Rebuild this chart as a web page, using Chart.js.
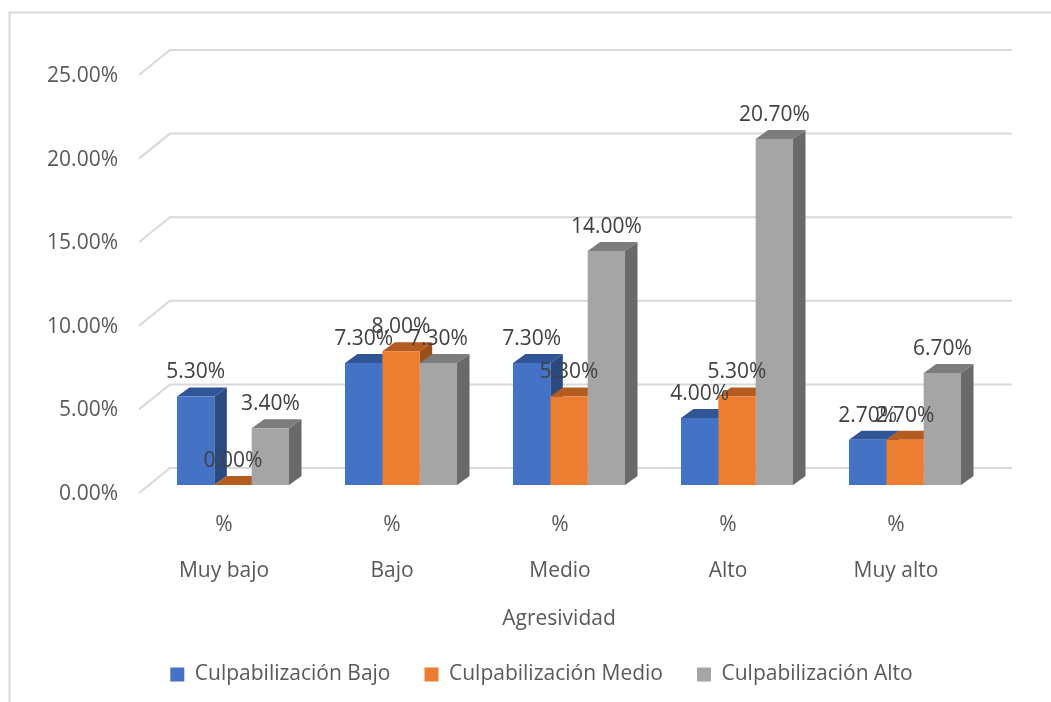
<!DOCTYPE html>
<html>
<head>
<meta charset="utf-8">
<script src="https://cdn.jsdelivr.net/npm/chart.js@4"></script>
<style>
    html, body { margin: 0; padding: 0; background: #fff; overflow: hidden; }
    canvas { display: block; }
</style>
</head>
<body>
<canvas id="myChart" width="1051" height="702"></canvas>
<script>
// Data
const categories = ['Muy bajo', 'Bajo', 'Medio', 'Alto', 'Muy alto'];
const unitLabel = '%';
const culpaBajo = [5.3, 7.3, 7.3, 4.0, 2.7];
const culpaMedio = [0.0, 8.0, 5.3, 5.3, 2.7];
const culpaAlto = [3.4, 7.3, 14.0, 20.7, 6.7];
const axisTitle = 'Agresividad';

const fontFamily = '"Open Sans", sans-serif';
const frontColors = ['#4472C4', '#ED7D31', '#A5A5A5'];
const topColors = ['#2F5597', '#B45B20', '#7C7C7C'];
const sideColors = ['#2A4A80', '#9C4E1B', '#696969'];
const gridColor = '#D9D9D9';

// depth of the fake 3D box
const barDepthX = 12.5;
const barDepthY = 9;
const wallRise = 17;
const floorDrop = 8;
const wallLeft = 170;
const wallFrontLeft = 139;
const wallRight = 1012;
const legendShift = 32;

function polygon(ctx, points, color) {
    ctx.fillStyle = color;
    ctx.beginPath();
    points.forEach(([x, y], i) => (i ? ctx.lineTo(x, y) : ctx.moveTo(x, y)));
    ctx.closePath();
    ctx.fill();
}

const box3d = {
    id: 'box3d',
    // the legend is centred under the whole picture, not under the plot
    afterLayout(chart) {
        chart.legend.left += legendShift;
        chart.legend.right += legendShift;
    },
    // outer frame and back wall lines
    beforeDraw(chart) {
        const { ctx, scales: { y } } = chart;
        ctx.save();
        ctx.strokeStyle = gridColor;
        ctx.lineWidth = 2;
        ctx.beginPath();
        ctx.moveTo(1051, 12.5);
        ctx.lineTo(9.5, 12.5);
        ctx.lineTo(9.5, 702);
        ctx.stroke();
        y.ticks.forEach((tick) => {
            const py = y.getPixelForValue(tick.value);
            ctx.beginPath();
            ctx.moveTo(wallFrontLeft, py + floorDrop);
            ctx.lineTo(wallLeft, py - wallRise);
            ctx.lineTo(wallRight, py - wallRise);
            ctx.stroke();
        });
        ctx.restore();
    },
    // side and top faces go under all the native front faces
    beforeDatasetsDraw(chart) {
        const { ctx } = chart;
        chart.data.datasets.forEach((ds, i) => {
            chart.getDatasetMeta(i).data.forEach((bar) => {
                const { x, y, base, width } = bar.getProps(['x', 'y', 'base', 'width']);
                const l = x - width / 2;
                const r = x + width / 2;
                polygon(ctx, [[r, y], [r + barDepthX, y - barDepthY], [r + barDepthX, base - barDepthY], [r, base]], sideColors[i]);
                polygon(ctx, [[l, y], [l + barDepthX, y - barDepthY], [r + barDepthX, y - barDepthY], [r, y]], topColors[i]);
            });
        });
    },
    // value labels and axis title on top of everything
    afterDatasetsDraw(chart) {
        const { ctx, scales: { x } } = chart;
        ctx.save();
        ctx.font = '21px ' + fontFamily;
        ctx.fillStyle = '#404040';
        ctx.textAlign = 'center';
        ctx.textBaseline = 'middle';
        chart.data.datasets.forEach((ds, i) => {
            chart.getDatasetMeta(i).data.forEach((bar, j) => {
                ctx.fillText(ds.data[j].toFixed(2) + '%', bar.x, bar.y - 24);
            });
        });
        ctx.fillStyle = '#595959';
        ctx.fillText(axisTitle, (x.left + x.right) / 2 - 10, 619);
        ctx.restore();
    }
};

const chart = new Chart(document.getElementById('myChart').getContext('2d'), {
    type: 'bar',
    data: {
        labels: categories.map((c) => [unitLabel, c]),
        datasets: [
            { label: 'Culpabilización Bajo', data: culpaBajo, backgroundColor: frontColors[0] },
            { label: 'Culpabilización Medio', data: culpaMedio, backgroundColor: frontColors[1] },
            { label: 'Culpabilización Alto', data: culpaAlto, backgroundColor: frontColors[2] }
        ]
    },
    plugins: [box3d],
    options: {
        responsive: false,
        animation: false,
        layout: { padding: { left: 30, right: 62, top: 67, bottom: 7 } },
        datasets: { bar: { barPercentage: 1, categoryPercentage: 0.667 } },
        plugins: {
            tooltip: { enabled: false },
            legend: {
                position: 'bottom',
                labels: {
                    color: '#595959',
                    font: { family: fontFamily, size: 21 },
                    boxWidth: 14,
                    boxHeight: 14,
                    padding: 34
                }
            }
        },
        scales: {
            x: {
                grid: { display: false },
                border: { display: false },
                afterFit: (scale) => { scale.height = 145; },
                ticks: {
                    color: '#595959',
                    font: { family: fontFamily, size: 21, lineHeight: 2.2 },
                    labelOffset: -9,
                    padding: 9,
                    maxRotation: 0
                }
            },
            y: {
                min: 0,
                max: 25,
                grid: { display: false },
                border: { display: false },
                afterFit: (scale) => { scale.width = 119; },
                ticks: {
                    stepSize: 5,
                    color: '#595959',
                    font: { family: fontFamily, size: 21 },
                    padding: 23,
                    labelOffset: 9,
                    callback: (value) => value.toFixed(2) + '%'
                }
            }
        }
    }
});
</script>
</body>
</html>
